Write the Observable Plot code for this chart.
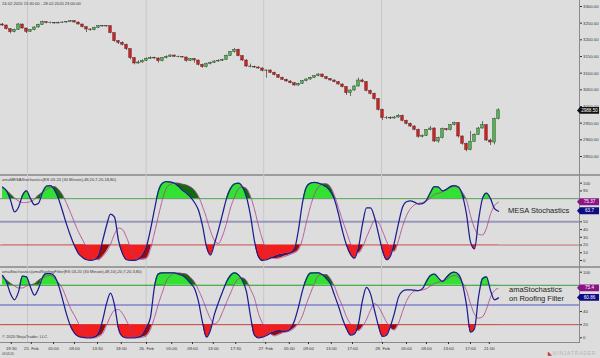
<!DOCTYPE html>
<html><head><meta charset="utf-8">
<script src="https://cdn.jsdelivr.net/npm/d3@7"></script>
<script src="https://cdn.jsdelivr.net/npm/@observablehq/plot@0.6"></script>
<style>
html,body{margin:0;padding:0;background:#dddddd;}
#wrap{position:relative;width:600px;height:358px;overflow:hidden;background:#dddddd;font-family:"Liberation Sans",Arial,sans-serif;}
#plots{position:absolute;left:0;top:0;z-index:2;}
#plots svg{display:block;}
.ln{position:absolute;z-index:1;background:#9c9c9c;}
.t{position:absolute;z-index:3;white-space:nowrap;color:#3a3a3a;font-size:4.1px;line-height:5px;}
.big{position:absolute;z-index:3;white-space:nowrap;color:#222;font-size:7.5px;line-height:8.5px;}
</style></head>
<body>
<div id="wrap">
  <div class="ln" style="left:0;top:174px;width:600px;height:2px;"></div>
  <div class="ln" style="left:0;top:266px;width:600px;height:2px;"></div>
  <div class="ln" style="left:579px;top:0;width:1px;height:343px;background:#8a8a8a;"></div>
  <div class="ln" style="left:0;top:342px;width:580px;height:1px;background:#8a8a8a;"></div>
  <div id="plots"></div>
  <div class="t" style="left:2px;top:1px;">24.02.2020 15:30:00 - 28.02.2020 23:00:00</div>
  <div class="t" style="left:2px;top:177px;">amaMESAStochastics(ES 03-20 (30 Minute),48,20,7,20,18,80)</div>
  <div class="t" style="left:2px;top:269px;">amaStochastics(amaRoofingFilter(ES 03-20 (30 Minute),48,10),20,7,20,3,80)</div>
  <div class="t" style="left:2px;top:334px;">© 2020 NinjaTrader, LLC</div>
  <div class="t" style="left:2px;top:352px;font-size:3px;">03.03.20</div>
  <div class="big" style="left:508px;top:207px;">MESA Stochastics</div>
  <div class="big" style="left:509px;top:286px;">amaStochastics<br>on Roofing Filter</div>
  <div class="t" style="left:548px;top:351px;font-size:5px;color:#b4b4b4;letter-spacing:0.8px;"><span style="color:#d03030;font-weight:bold;">◣</span>NINJATRADER</div>
</div>
<script>
// ---------- data ----------
const firstOpen = 3246;
const closes = [3243,3232,3223,3230,3246,3234,3224,3229,3237,3245,
  3253,3250,3251,3249,3251,3252,3253,3256,3252,3246,
  3238,3231,3229,3236,3241,3240,3241,3220,3196,3191,
  3185,3172,3145,3129,3132,3137,3143,3146,3144,3136,
  3145,3149,3153,3149,3148,3147,3137,3142,3138,3125,
  3118,3127,3131,3135,3137,3140,3152,3163,3170,3151,
  3138,3120,3119,3117,3114,3107,3108,3101,3094,3086,
  3080,3075,3070,3063,3068,3076,3081,3086,3091,3096,
  3088,3082,3078,3073,3066,3058,3040,3048,3060,3078,
  3073,3047,3038,3022,2990,2965,2966,2964,2967,2972,
  2957,2948,2940,2930,2909,2912,2929,2934,2895,2905,
  2932,2929,2944,2950,2910,2888,2869,2894,2915,2934,
  2944,2898,2892,2962,2988.5];
const highs = [3249,3244,3233,3232,3249,3247,3235,3231,3239,3247,
  3256,3254,3253,3252,3253,3254,3255,3258,3257,3253,
  3247,3239,3233,3238,3243,3243,3243,3242,3221,3198,
  3194,3187,3173,3147,3137,3140,3146,3149,3148,3146,
  3147,3152,3155,3154,3151,3150,3148,3144,3144,3139,
  3127,3130,3133,3137,3140,3142,3154,3165,3174,3172,
  3153,3140,3127,3121,3119,3116,3110,3110,3103,3096,
  3088,3082,3077,3072,3070,3078,3083,3088,3093,3098,
  3097,3090,3084,3080,3075,3068,3060,3050,3062,3085,
  3082,3075,3049,3040,3024,2992,2970,2969,2970,2976,
  2974,2959,2950,2942,2932,2915,2931,2940,2936,2908,
  2935,2934,2946,2953,2952,2912,2890,2925,2918,2937,
  2955,2946,2902,2965,2993];
const lows = [3240,3230,3218,3221,3228,3232,3219,3222,3227,3235,
  3243,3248,3248,3247,3248,3249,3250,3252,3250,3244,
  3236,3222,3226,3227,3234,3238,3238,3218,3193,3186,
  3182,3168,3140,3125,3127,3130,3135,3141,3142,3130,
  3134,3143,3147,3147,3146,3145,3133,3135,3130,3122,
  3115,3116,3125,3129,3133,3135,3138,3150,3160,3149,
  3135,3117,3116,3114,3112,3104,3085,3099,3092,3084,
  3078,3073,3068,3061,3061,3066,3074,3079,3084,3089,
  3086,3080,3076,3071,3064,3056,3033,3030,3046,3058,
  3071,3044,3035,3019,2986,2958,2961,2961,2962,2965,
  2954,2945,2937,2927,2905,2906,2910,2927,2892,2890,
  2903,2926,2927,2942,2905,2884,2864,2867,2892,2913,
  2932,2895,2883,2885,2960];

const dayBreaks = [6.25, 35.9, 65.3, 94.75];
const xTickPos = [2.2, 7.2, 12.75, 18, 23.75, 29.7, 36, 42.3, 47.5, 52.7, 58.3, 65.8, 71.7, 76.5, 82.2, 87.5, 95, 101, 106, 111.5, 117, 121.7];
const xTickLabels = ["19:30","25. Feb","05:00","09:00","13:30","18:00","26. Feb","05:00","09:00","13:00","17:30","27. Feb","05:00","09:00","13:00","17:00","28. Feb","05:00","09:00","13:00","17:00","21:00"];
const priceTicks = [2850,2900,2950,3000,3050,3100,3150,3200,3250,3300];

const p2Fast = [95,90,78,63,69,84,90,80,72,74, 88,96,97,91,80,64,47,32,19,9,
  4,1,0,1,6.5,25,45,60,56,26, 9,1,0,0,2,7,18,40,66,90,
  100,102,101.5,100,96,91,87,82,75,65, 45,18,7,22,40,60,80,93,99,100,
  95,82,58,25,5,0,1,3,5,7, 8,9,10,15,40,75,95,100,101,100,
  98,95,89,79,60,38,20,8,3,17, 47,68,68,56,34.5,13,1,6,24,48,
  69,76,77,75.5,73,73.5,78,88,95.5,95, 90,92,95.5,97,95,84,60,24,15,52,
  80,87,80,67,63.7];
const p2Slow = [94,91,86,81,77,75,75,76.5,79,84, 88,92,94.5,95.5,92,85,74,62,49,37,
  27,17,8,2,1,5,11.5,21,34,42, 40,30,17,7,1.5,1.5,3,15,36,58,
  79,94,98.5,100,100,98.5,97.5,95,91,83, 70,55,38,26,22,32,48,68,82,93,
  95,93,83,66,45,27,12,5,2.5,3, 4.5,6,8,10,14,28,50,70,86,95,
  99,99,95,84,68,52,37,22,13,10, 17,30,42,52,49,38,25,15,12,26,
  44,58,67,72,74,75,77,81,85.5,87, 89,92,94.5,95.5,94,88,78,58,42,34,
  33,42,60,71,75.37];
const p3Fast = [95,85,67,58,70,94,93,77,65,75, 92,98,98,94,80,59,36,18,7,2,
  0.5,0,0,1.5,7,26,52,68,50,14, 2,0,0,0,1,5,16,31.5,78,97.5,
  99,99,99,99,97,95,90,83,75,55, 24,1,12,36,54,70,85,95,99,96,
  87,70,33,4,0,1,3.5,7,9,11, 10,10,14,26,47,72,90,98.6,99,99,
  96,90,82,65,48,29,14,4,6,22, 57,77,67,42,18,2,4,18,38,62,
  71,73,73,72.5,72,75,86,95,97,91, 86,92,98,100,96.5,82,50,8.6,14,62,
  90,93,72,58,60.86];
const p3Slow = [92,88,83,79,76,76,79,80.5,82,87, 91,94,95,91,84,75,60,45,34,22,
  11,4,0.5,0,2,6,19,33,42,43, 37,26,14,5,0,1,3,13,31,52,
  70,87,95,98.5,98.5,98,97,92,85,73, 59,43,29,21,26,39,54,68,82,90,
  91,87,74,60,37,22,12,6,3,5, 7.5,9,11,15,22,34,52,68,83,95,
  96,96,90,78,62,48,32,21,14,11, 17,28,42,52,47,36,24,15,12,22,
  40,56,66,71,72,73,75,79,82.5,85, 86.5,89,93,95,92,84,72,52,36,30,
  32,44,62,72,75.4];
// tick labels that are not hidden behind the value tags
const osc2Ticks = [0,10,20,30,40,50,90,100];
const osc3Ticks = [0,20,40,100];
const levelsHi = 80, levelsMid = 50, levelsLo = 20;

// ---------- build ----------
const X_DOMAIN = [-0.5, 144.25];
const styleObj = {background: "transparent", color: "#333", fontSize: "4.3px", fontFamily: "'Liberation Sans', Arial, sans-serif", overflow: "visible"};
const bars = closes.map((c, i) => ({i, o: i ? closes[i - 1] : firstOpen, h: highs[i], l: lows[i], c}));

function yPix(plot, v) {
  const s = plot.scale("y");
  if (s && typeof s.apply === "function") return s.apply(v);
  const [d0, d1] = s.domain, [r0, r1] = s.range;
  return r0 + (v - d0) / (d1 - d0) * (r1 - r0);
}
function addTag(svg, y, text, bg) {
  const g = d3.select(svg).append("g");
  g.append("path").attr("d", `M577,${y} L580,${y - 3.4} L599,${y - 3.4} L599,${y + 3.4} L580,${y + 3.4} Z`).attr("fill", bg);
  g.append("text").attr("x", 589.5).attr("y", y).attr("dy", "0.35em").attr("text-anchor", "middle")
    .attr("fill", "#fff").attr("font-size", "4.6px").attr("font-family", "'Liberation Sans', Arial, sans-serif").text(text);
}

const host = document.getElementById("plots");

const pricePlot = Plot.plot({
  width: 600, height: 175, marginLeft: 0, marginRight: 21, marginTop: 0, marginBottom: 0,
  style: styleObj,
  x: {domain: X_DOMAIN, axis: null},
  y: {domain: [2793, 3318], axis: "right", ticks: priceTicks, tickFormat: d3.format(".2f"), tickSize: 2, tickPadding: 1.5, label: null},
  marks: [
    Plot.ruleX(dayBreaks, {stroke: "#c8c8c8", strokeWidth: 1}),
    Plot.ruleX(bars, {x: "i", y1: "l", y2: "h", stroke: "#3a3a3a", strokeWidth: 0.7}),
    Plot.rect(bars.filter(d => d.c >= d.o), {x1: d => d.i - 0.34, x2: d => d.i + 0.34, y1: "o", y2: "c", fill: "#4cb84c", stroke: "#2a2a2a", strokeWidth: 0.4}),
    Plot.rect(bars.filter(d => d.c < d.o), {x1: d => d.i - 0.34, x2: d => d.i + 0.34, y1: "o", y2: "c", fill: "#d81c1c", stroke: "#2a2a2a", strokeWidth: 0.4})
  ]
});
host.appendChild(pricePlot);
addTag(pricePlot, yPix(pricePlot, closes[closes.length - 1]) + 0.6, d3.format(".2f")(closes[closes.length - 1]), "#111");

function oscPlot(fast, slow, o) {
  const data = fast.map((f, i) => ({i, f, s: slow[i]}));
  const curve = "monotone-x";
  const tickMap = new Map(xTickPos.map((p, k) => [p, xTickLabels[k]]));
  const p = Plot.plot({
    width: 600, height: o.height, marginLeft: 0, marginRight: 21, marginTop: 0, marginBottom: o.mb,
    style: styleObj,
    x: o.xAxis ? {domain: X_DOMAIN, axis: "bottom", ticks: xTickPos, tickFormat: d => tickMap.get(d), tickSize: 2, tickPadding: 2, label: null}
               : {domain: X_DOMAIN, axis: null},
    y: {domain: o.yDomain, axis: "right", ticks: o.ticks, tickSize: 2, tickPadding: 1.5, label: null},
    marks: [
      Plot.ruleX(dayBreaks, {stroke: "#c8c8c8", strokeWidth: 1}),
      Plot.ruleY([levelsHi], {stroke: o.cHi, strokeWidth: 1}),
      Plot.ruleY([levelsMid], {stroke: o.cMid, strokeWidth: o.wMid}),
      Plot.ruleY([levelsLo], {stroke: o.cLo, strokeWidth: 1}),
      Plot.areaY(data, {x: "i", y1: "f", y2: "s", fill: "#0f6a12", curve}),
      Plot.areaY(data, {x: "i", y1: levelsHi, y2: "f", fill: "#33e133", curve}),
      Plot.areaY(data, {x: "i", y1: "f", y2: "s", fill: "#9a0a0a", curve}),
      Plot.areaY(data, {x: "i", y1: levelsLo, y2: "f", fill: "#f21e1e", curve}),
      Plot.lineY(data, {x: "i", y: "s", stroke: "#a83a8c", strokeWidth: 0.8, strokeDasharray: "1.6,0.8", curve}),
      Plot.lineY(data, {x: "i", y: "f", stroke: "#1d1d8e", strokeWidth: 1.25, curve})
    ]
  });
  host.appendChild(p);
  const areas = p.querySelectorAll('g[aria-label="area"]');
  const yU = yPix(p, levelsHi), yL = yPix(p, levelsLo);
  const defs = d3.select(p).insert("defs", ":first-child");
  defs.append("clipPath").attr("id", o.id + "u").append("rect").attr("x", -5).attr("y", -20).attr("width", 590).attr("height", yU + 20);
  defs.append("clipPath").attr("id", o.id + "l").append("rect").attr("x", -5).attr("y", yL).attr("width", 590).attr("height", o.height - o.mb - yL + 20);
  if (areas.length >= 4) {
    areas[0].setAttribute("clip-path", `url(#${o.id}u)`);
    areas[1].setAttribute("clip-path", `url(#${o.id}u)`);
    areas[2].setAttribute("clip-path", `url(#${o.id}l)`);
    areas[3].setAttribute("clip-path", `url(#${o.id}l)`);
  }
  addTag(p, yPix(p, slow[slow.length - 1]), String(slow[slow.length - 1]), "#8a1486");
  addTag(p, yPix(p, fast[fast.length - 1]), String(fast[fast.length - 1]), "#0c0c84");
  return p;
}

oscPlot(p2Fast, p2Slow, {id: "m2", height: 92, mb: 0, xAxis: false, yDomain: [-9.06, 109.96], ticks: osc2Ticks,
  cHi: "#5c9c5c", cMid: "#9898bc", wMid: 2, cLo: "#c27070"});
oscPlot(p3Fast, p3Slow, {id: "m3", height: 91, mb: 16, xAxis: true, yDomain: [-7.16, 107.16], ticks: osc3Ticks,
  cHi: "#3a9e3a", cMid: "#5454c4", wMid: 1, cLo: "#c44a4a"});
</script>
</body></html>
